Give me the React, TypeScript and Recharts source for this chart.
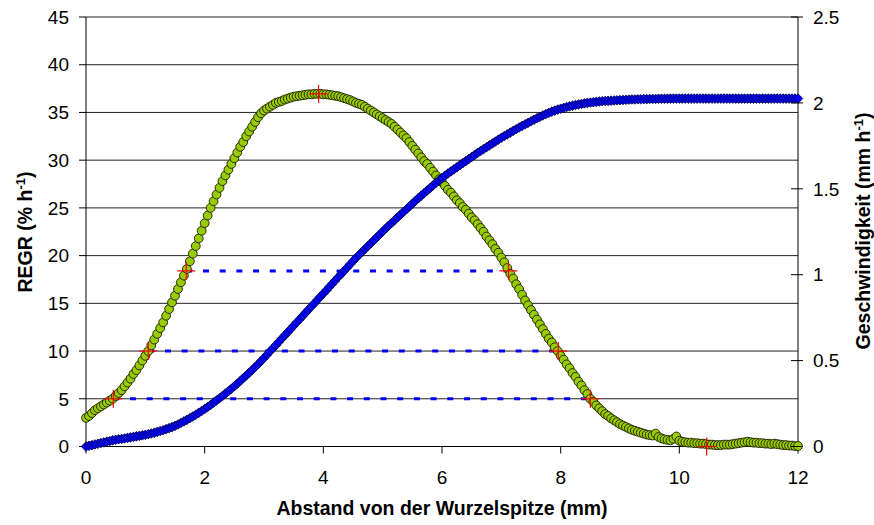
import { CartesianGrid, Scatter, ScatterChart, XAxis, YAxis } from 'recharts';

// sampling positions along the root (mm)
const distance = [
  0.0, 0.05, 0.1, 0.15, 0.2, 0.25, 0.3, 0.35, 0.4, 0.45,
  0.5, 0.55, 0.6, 0.65, 0.7, 0.75, 0.8, 0.85, 0.9, 0.95,
  1.0, 1.05, 1.1, 1.15, 1.2, 1.25, 1.3, 1.35, 1.4, 1.45,
  1.5, 1.55, 1.6, 1.65, 1.7, 1.75, 1.8, 1.85, 1.9, 1.95,
  2.0, 2.05, 2.1, 2.15, 2.2, 2.25, 2.3, 2.35, 2.4, 2.45,
  2.5, 2.55, 2.6, 2.65, 2.7, 2.75, 2.8, 2.85, 2.9, 2.95,
  3.0, 3.05, 3.1, 3.15, 3.2, 3.25, 3.3, 3.35, 3.4, 3.45,
  3.5, 3.55, 3.6, 3.65, 3.7, 3.75, 3.8, 3.85, 3.9, 3.95,
  4.0, 4.05, 4.1, 4.15, 4.2, 4.25, 4.3, 4.35, 4.4, 4.45,
  4.5, 4.55, 4.6, 4.65, 4.7, 4.75, 4.8, 4.85, 4.9, 4.95,
  5.0, 5.05, 5.1, 5.15, 5.2, 5.25, 5.3, 5.35, 5.4, 5.45,
  5.5, 5.55, 5.6, 5.65, 5.7, 5.75, 5.8, 5.85, 5.9, 5.95,
  6.0, 6.05, 6.1, 6.15, 6.2, 6.25, 6.3, 6.35, 6.4, 6.45,
  6.5, 6.55, 6.6, 6.65, 6.7, 6.75, 6.8, 6.85, 6.9, 6.95,
  7.0, 7.05, 7.1, 7.15, 7.2, 7.25, 7.3, 7.35, 7.4, 7.45,
  7.5, 7.55, 7.6, 7.65, 7.7, 7.75, 7.8, 7.85, 7.9, 7.95,
  8.0, 8.05, 8.1, 8.15, 8.2, 8.25, 8.3, 8.35, 8.4, 8.45,
  8.5, 8.55, 8.6, 8.65, 8.7, 8.75, 8.8, 8.85, 8.9, 8.95,
  9.0, 9.05, 9.1, 9.15, 9.2, 9.25, 9.3, 9.35, 9.4, 9.45,
  9.5, 9.55, 9.6, 9.65, 9.7, 9.75, 9.8, 9.85, 9.9, 9.95,
  10.0, 10.05, 10.1, 10.15, 10.2, 10.25, 10.3, 10.35, 10.4, 10.45,
  10.5, 10.55, 10.6, 10.65, 10.7, 10.75, 10.8, 10.85, 10.9, 10.95,
  11.0, 11.05, 11.1, 11.15, 11.2, 11.25, 11.3, 11.35, 11.4, 11.45,
  11.5, 11.55, 11.6, 11.65, 11.7, 11.75, 11.8, 11.85, 11.9, 11.95,
  12.0,
];

// relative elemental growth rate (% h-1)
const regr = [
  3.0, 3.2, 3.5, 3.8, 4.0, 4.2, 4.4, 4.6, 4.8, 5.0,
  5.3, 5.6, 5.9, 6.3, 6.7, 7.1, 7.6, 8.0, 8.5, 9.0,
  9.5, 10.0, 10.6, 11.2, 11.8, 12.4, 13.0, 13.7, 14.4, 15.1,
  15.8, 16.5, 17.2, 17.9, 18.6, 19.4, 20.2, 21.0, 21.8, 22.6,
  23.4, 24.2, 25.0, 25.7, 26.4, 27.1, 27.8, 28.4, 29.0, 29.6,
  30.2, 30.8, 31.4, 31.9, 32.5, 33.0, 33.5, 34.0, 34.5, 34.9,
  35.2, 35.4, 35.6, 35.8, 36.0, 36.1, 36.2, 36.35, 36.45, 36.55,
  36.65, 36.7, 36.75, 36.8, 36.85, 36.9, 36.9, 36.95, 36.95, 36.95,
  36.9, 36.9, 36.85, 36.8, 36.75, 36.7, 36.6, 36.5, 36.4, 36.3,
  36.15, 36.0, 35.9, 35.8, 35.6, 35.4, 35.2, 35.0, 34.8, 34.6,
  34.4, 34.2, 34.0, 33.8, 33.5, 33.2, 32.9, 32.6, 32.3, 31.9,
  31.5, 31.1, 30.7, 30.3, 29.9, 29.6, 29.2, 28.8, 28.4, 28.0,
  27.7, 27.3, 26.9, 26.6, 26.2, 25.8, 25.5, 25.1, 24.8, 24.4,
  24.0, 23.7, 23.3, 22.9, 22.5, 22.0, 21.6, 21.2, 20.7, 20.3,
  19.8, 19.3, 18.7, 18.1, 17.6, 17.0, 16.5, 15.9, 15.3, 14.8,
  14.3, 13.8, 13.3, 12.8, 12.3, 11.8, 11.3, 10.9, 10.4, 10.0,
  9.5, 9.1, 8.6, 8.2, 7.7, 7.3, 6.8, 6.4, 5.9, 5.5,
  5.0, 4.7, 4.3, 4.0, 3.7, 3.4, 3.2, 2.95, 2.75, 2.55,
  2.35, 2.2, 2.05, 1.9, 1.75, 1.65, 1.55, 1.45, 1.35, 1.25,
  1.2, 1.15, 1.35, 1.0, 0.85, 0.75, 0.7, 0.65, 0.8, 1.05,
  0.6, 0.5, 0.45, 0.4, 0.4, 0.35, 0.35, 0.3, 0.3, 0.25,
  0.2, 0.2, 0.15, 0.15, 0.15, 0.2, 0.2, 0.2, 0.25, 0.3,
  0.35, 0.4, 0.45, 0.5, 0.45, 0.4, 0.4, 0.35, 0.35, 0.3,
  0.3, 0.25, 0.3, 0.25, 0.2, 0.15, 0.15, 0.1, 0.1, 0.05,
  0.05,
];

// displacement velocity (mm h-1)
const velocity = [
  0.0, 0.004, 0.008, 0.012, 0.016, 0.02, 0.024, 0.028, 0.032, 0.036,
  0.039, 0.042, 0.044, 0.047, 0.05, 0.053, 0.056, 0.059, 0.062, 0.065,
  0.068, 0.072, 0.076, 0.08, 0.085, 0.09, 0.095, 0.101, 0.107, 0.113,
  0.12, 0.128, 0.137, 0.146, 0.155, 0.165, 0.175, 0.185, 0.196, 0.207,
  0.218, 0.23, 0.242, 0.255, 0.268, 0.281, 0.294, 0.308, 0.322, 0.336,
  0.351, 0.366, 0.381, 0.397, 0.413, 0.429, 0.445, 0.462, 0.479, 0.497,
  0.515, 0.534, 0.553, 0.571, 0.59, 0.609, 0.628, 0.646, 0.665, 0.684,
  0.703, 0.722, 0.74, 0.759, 0.778, 0.797, 0.816, 0.834, 0.853, 0.872,
  0.891, 0.909, 0.928, 0.947, 0.966, 0.985, 1.003, 1.022, 1.041, 1.06,
  1.079, 1.097, 1.115, 1.132, 1.149, 1.166, 1.183, 1.2, 1.217, 1.234,
  1.251, 1.268, 1.285, 1.301, 1.317, 1.333, 1.349, 1.365, 1.381, 1.397,
  1.413, 1.429, 1.445, 1.46, 1.475, 1.49, 1.505, 1.52, 1.535, 1.549,
  1.563, 1.576, 1.589, 1.601, 1.613, 1.625, 1.637, 1.649, 1.661, 1.673,
  1.685, 1.697, 1.709, 1.72, 1.731, 1.742, 1.753, 1.764, 1.775, 1.786,
  1.797, 1.807, 1.817, 1.827, 1.837, 1.847, 1.857, 1.866, 1.875, 1.884,
  1.893, 1.902, 1.911, 1.919, 1.927, 1.935, 1.942, 1.949, 1.955, 1.961,
  1.966, 1.971, 1.976, 1.98, 1.984, 1.988, 1.991, 1.994, 1.997, 2.0,
  2.002, 2.004, 2.006, 2.008, 2.01, 2.011, 2.012, 2.013, 2.014, 2.015,
  2.016, 2.017, 2.018, 2.019, 2.02, 2.02, 2.021, 2.021, 2.022, 2.022,
  2.023, 2.023, 2.023, 2.024, 2.024, 2.024, 2.024, 2.025, 2.025, 2.025,
  2.025, 2.025, 2.025, 2.025, 2.025, 2.025, 2.025, 2.025, 2.025, 2.025,
  2.025, 2.025, 2.025, 2.025, 2.025, 2.025, 2.025, 2.025, 2.025, 2.025,
  2.025, 2.025, 2.025, 2.025, 2.025, 2.025, 2.025, 2.025, 2.025, 2.025,
  2.025, 2.025, 2.025, 2.025, 2.025, 2.025, 2.025, 2.025, 2.025, 2.025,
  2.025,
];

// marked REGR levels and where the curve reaches them
const levels = [5, 10, 18.4];
const risingAt = [0.46, 1.05, 1.69];
const fallingAt = [8.5, 7.96, 7.12];
const peak = { x: 3.92, y: 36.95 };
const endOfGrowth = { x: 10.46, y: 0 };

const xTicks = [0, 2, 4, 6, 8, 10, 12];
const leftTicks = [0, 5, 10, 15, 20, 25, 30, 35, 40, 45];
const rightTicks = [0, 0.5, 1, 1.5, 2, 2.5];

const regrPoints = distance.map((x, i) => ({ x, y: regr[i] }));
const velocityPoints = distance.map((x, i) => ({ x, y: velocity[i] }));
const crossPoints = [
  ...levels.map((y, i) => ({ x: risingAt[i], y })),
  peak,
  ...levels.map((y, i) => ({ x: fallingAt[i], y })),
  endOfGrowth,
];
const levelSegments = levels.map((y, i) => [
  { x: risingAt[i], y },
  { x: fallingAt[i], y },
]);

const FONT = '"Liberation Sans", Arial, sans-serif';
const W = 874;
const H = 525;

const Ring = (p: any) => (
  <circle cx={p.cx} cy={p.cy} r={4.4} fill="#99CC00" stroke="#1a1a00" strokeWidth={0.9} />
);

const Diamond = (p: any) => {
  const s = 4.8;
  return (
    <polygon
      points={`${p.cx},${p.cy - s} ${p.cx + s},${p.cy} ${p.cx},${p.cy + s} ${p.cx - s},${p.cy}`}
      fill="#0000FF"
      stroke="#000033"
      strokeWidth={0.8}
    />
  );
};

const Cross = (p: any) => (
  <g stroke="#FF0000" strokeWidth={1.2}>
    <line x1={p.cx - 9} y1={p.cy} x2={p.cx + 9} y2={p.cy} />
    <line x1={p.cx} y1={p.cy - 9} x2={p.cx} y2={p.cy + 9} />
  </g>
);

const NoMark = () => <g />;

// right axis ticks cross the axis line
const RightTick = (p: any) => {
  const axisX = p.x - 15;
  return (
    <g>
      <line x1={axisX - 7} y1={p.y} x2={axisX + 5} y2={p.y} stroke="#000" />
      <text x={p.x} y={p.y} dy="0.355em" fontSize={19} fontFamily={FONT} fill="#000">
        {p.payload.value}
      </text>
    </g>
  );
};

export default function App() {
  return (
    <div style={{ position: 'absolute', left: 0, top: 0, width: W, height: H, background: '#fff' }}>
      <ScatterChart width={W} height={H} margin={{ top: 17, right: 0, bottom: 0, left: 0 }}>
        <CartesianGrid yAxisId="left" vertical={false} stroke="#222" />
        <XAxis
          type="number"
          dataKey="x"
          domain={[0, 12]}
          ticks={xTicks}
          height={78.5}
          tickSize={7}
          tickMargin={17}
          stroke="#000"
          tick={{ fontSize: 19, fontFamily: FONT, fill: '#000' }}
        />
        <YAxis
          yAxisId="left"
          type="number"
          dataKey="y"
          domain={[0, 45]}
          ticks={leftTicks}
          width={86}
          tickSize={7}
          tickMargin={10}
          stroke="#000"
          tick={{ fontSize: 19, fontFamily: FONT, fill: '#000' }}
        />
        <YAxis
          yAxisId="right"
          orientation="right"
          type="number"
          dataKey="y"
          domain={[0, 2.5]}
          ticks={rightTicks}
          width={76}
          tickSize={5}
          tickMargin={10}
          stroke="#000"
          tickLine={false}
          tick={<RightTick />}
        />
        {levelSegments.map((seg, i) => (
          <Scatter
            key={i}
            yAxisId="left"
            data={seg}
            shape={NoMark}
            line={{ stroke: '#0000FF', strokeWidth: 3, strokeDasharray: '6 10.7' }}
            lineType="joint"
            isAnimationActive={false}
          />
        ))}
        <Scatter yAxisId="left" data={regrPoints} shape={Ring} isAnimationActive={false} />
        <Scatter yAxisId="right" data={velocityPoints} shape={Diamond} isAnimationActive={false} />
        <Scatter yAxisId="left" data={crossPoints} shape={Cross} isAnimationActive={false} />
      </ScatterChart>
      <svg
        width={W}
        height={H}
        style={{ position: 'absolute', left: 0, top: 0, pointerEvents: 'none' }}
        fontFamily={FONT}
        fontWeight="bold"
        fontSize={19.5}
      >
        <text transform="translate(32 232) rotate(-90)" textAnchor="middle">
          REGR (% h<tspan dy={-7} fontSize={13}>-1</tspan>
          <tspan dy={7}>)</tspan>
        </text>
        <text transform="translate(870 231) rotate(-90)" textAnchor="middle">
          Geschwindigkeit (mm h<tspan dy={-7} fontSize={13}>-1</tspan>
          <tspan dy={7}>)</tspan>
        </text>
        <text x={442} y={515} textAnchor="middle">
          Abstand von der Wurzelspitze (mm)
        </text>
      </svg>
    </div>
  );
}
